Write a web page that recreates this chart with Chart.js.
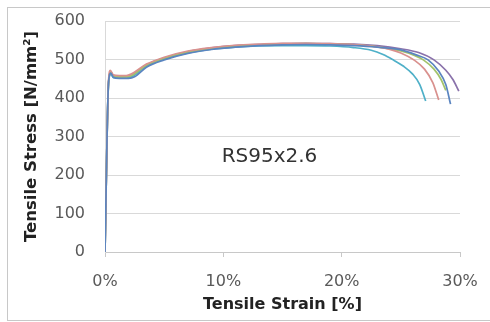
<!DOCTYPE html>
<html>
<head>
<meta charset="utf-8">
<script src="https://cdn.jsdelivr.net/npm/chart.js@4"></script>
<style>
  html, body { margin: 0; padding: 0; background: #fff; overflow: hidden; }
  #wrap { position: relative; width: 490px; height: 322px; }
  #frame { position: absolute; left: 7px; top: 7px; width: 520px; height: 314px; border: 1px solid #c8c8c8; box-sizing: border-box; }
  canvas { position: absolute; left: 0; top: 0; }
</style>
</head>
<body>
<div id="wrap">
  <div id="frame"></div>
  <canvas id="tensileChart" width="490" height="322"></canvas>
</div>
<script>
// Tensile tests, specimen RS95x2.6 -- [strain %, stress N/mm2]
const seriesNames = ['Test 1', 'Test 2', 'Test 3', 'Test 4', 'Test 5'];
const seriesColors = ['#5b85c0', '#d9918e', '#a3c36b', '#8a72ab', '#4fb0c8'];

const test1 = [[0,0],[0.3,440],[0.5,465],[0.7,454],[1.2,451],[2.0,451],[2.5,455],[3.5,480],[5,499],[7,516],[9,526],[11,532],[13,536],[15,538],[17,539],[19,538],[21,536],[23,532],[25,525],[26.3,512],[27.3,499],[28.2,470],[28.8,435],[29.2,384]];
const test2 = [[0,0],[0.3,445],[0.45,472],[0.7,460],[1.2,458],[1.8,458],[2.2,462],[3.5,488],[5,506],[7,522],[9,531],[11,537],[13,540],[15,542],[17,542],[19,541],[21,539],[23,533],[24,527],[25,517],[26.1,499],[27,475],[27.7,440],[28.2,395]];
const test3 = [[0,0],[0.3,440],[0.5,468],[0.7,457],[1.2,455],[1.8,455],[2.3,459],[3.5,485],[5,503],[7,519],[9,529],[11,535],[13,538],[15,540],[17,541],[19,540],[21,538],[23,533],[25,522],[26.2,510],[26.9,499],[27.8,475],[28.4,448],[28.8,420]];
const test4 = [[0,0],[0.3,442],[0.5,466],[0.7,458],[1.2,456],[1.8,456],[2.3,460],[3.5,486],[5,504],[7,520],[9,530],[11,536],[13,539],[15,541],[17,542],[19,541],[21,540],[23,536],[25,528],[26.5,518],[27.8,499],[28.8,472],[29.4,448],[29.9,418]];
const test5 = [[0,0],[0.3,438],[0.5,462],[0.7,453],[1.2,452],[1.8,452],[2.3,456],[3.5,483],[5,501],[7,517],[9,527],[11,532],[13,535],[15,536],[17,536],[19,535],[21,531],[22.5,524],[23.5,513],[24.3,500],[25.2,483],[26,462],[26.6,435],[27.1,392]];

const xTicks = [0, 10, 20, 30];
const yTicks = [0, 100, 200, 300, 400, 500, 600];
const specimenLabel = 'RS95x2.6';

const allTests = [test1, test2, test3, test4, test5];
const FONT = '"DejaVu Sans", Verdana, sans-serif';

const specimenLabelPlugin = {
  id: 'specimenLabel',
  afterDraw(chart) {
    const { ctx, scales } = chart;
    ctx.save();
    ctx.font = '20px ' + FONT;
    ctx.fillStyle = '#333';
    ctx.textAlign = 'center';
    ctx.textBaseline = 'middle';
    ctx.fillText(specimenLabel, scales.x.getPixelForValue(13.9), scales.y.getPixelForValue(248));
    ctx.restore();
  }
};

new Chart(document.getElementById('tensileChart'), {
  type: 'scatter',
  data: {
    datasets: allTests.map((pts, i) => ({
      label: seriesNames[i],
      data: pts.map(p => ({ x: p[0], y: p[1] })),
      showLine: true,
      borderColor: seriesColors[i],
      borderWidth: 1.7,
      pointRadius: 0,
      cubicInterpolationMode: 'monotone',
      fill: false
    }))
  },
  options: {
    responsive: false,
    animation: false,
    layout: { padding: { left: 22, right: 30, top: 21, bottom: 6 } },
    plugins: { legend: { display: false }, tooltip: { enabled: false } },
    scales: {
      x: {
        type: 'linear',
        min: 0,
        max: 30,
        afterBuildTicks: (s) => { s.ticks = xTicks.map(v => ({ value: v })); },
        // fixed height; drop the extra side padding that tick padding adds
        afterFit: (s) => { s.height = 64; s.paddingLeft = 0; s.paddingRight = 0; },
        ticks: {
          color: '#595959',
          font: { family: FONT, size: 16 },
          padding: 15,
          maxRotation: 0,
          callback: (v) => v + '%'
        },
        grid: { display: true, drawOnChartArea: false, tickLength: 5, color: '#c8c8c8' },
        border: { color: '#c8c8c8' },
        title: {
          display: true,
          text: 'Tensile Strain [%]',
          color: '#222',
          font: { family: FONT, size: 16, weight: 'bold' },
          padding: { top: 0, bottom: 2 }
        }
      },
      y: {
        min: 0,
        max: 600,
        afterBuildTicks: (s) => { s.ticks = yTicks.map(v => ({ value: v })); },
        afterFit: (s) => { s.width = 83; s.paddingTop = 0; s.paddingBottom = 0; },
        ticks: {
          color: '#595959',
          font: { family: FONT, size: 16 },
          padding: 20
        },
        grid: { color: '#d9d9d9', drawTicks: false },
        border: { display: true, color: '#d9d9d9' },
        title: {
          display: true,
          text: 'Tensile Stress [N/mm²]',
          color: '#222',
          font: { family: FONT, size: 16.5, weight: 'bold' },
          padding: { top: 0, bottom: 2 }
        }
      }
    }
  },
  plugins: [specimenLabelPlugin]
});
</script>
</body>
</html>
